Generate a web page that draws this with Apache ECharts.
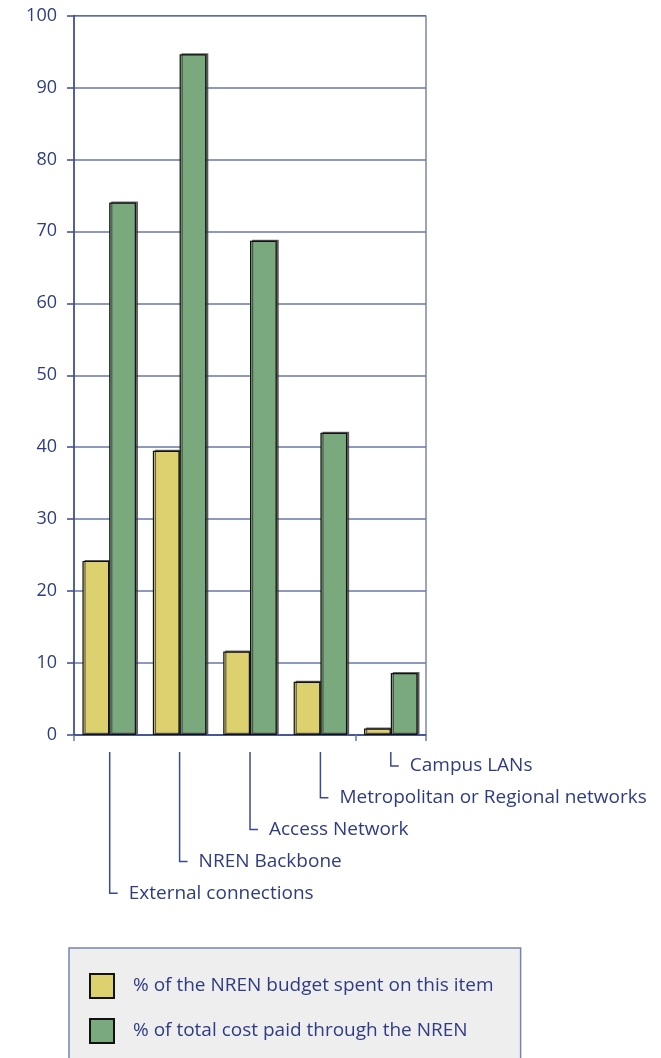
<!DOCTYPE html>
<html>
<head>
<meta charset="utf-8">
<script src="https://cdn.jsdelivr.net/npm/echarts@6/dist/echarts.min.js"></script>
<style>
html,body{margin:0;padding:0;background:#fff;}
#chart{width:661px;height:1058px;}
</style>
</head>
<body>
<div id="chart"></div>
<script>
var categories = ['External connections', 'NREN Backbone', 'Access Network', 'Metropolitan or Regional networks', 'Campus LANs'];
var budgetShare = [24.2, 39.5, 11.6, 7.4, 0.9];
var costPaidShare = [74.0, 94.6, 68.7, 42.0, 8.6];
var seriesNames = ['% of the NREN budget spent on this item', '% of total cost paid through the NREN'];
var yTicks = [0, 10, 20, 30, 40, 50, 60, 70, 80, 90, 100];

var FONT = '"Open Sans", sans-serif';
var TXT = '#2f3c84';
var AXIS = '#3b4a8e';
var GRID = '#6a77ab';

var chart = echarts.init(document.getElementById('chart'));
var n = categories.length;

chart.setOption({
  animation: false,
  backgroundColor: '#ffffff',
  grid: { left: 74, right: 235, top: 15.5, bottom: 323, show: true, borderColor: AXIS, borderWidth: 1, backgroundColor: 'transparent' },
  xAxis: {
    type: 'category',
    data: categories,
    axisLine: { lineStyle: { color: AXIS, width: 1.5 } },
    axisTick: { show: true, length: 6, lineStyle: { color: GRID, width: 1.5 } },
    axisLabel: { show: false }
  },
  yAxis: {
    type: 'value',
    min: yTicks[0],
    max: yTicks[yTicks.length - 1],
    interval: yTicks[1] - yTicks[0],
    axisLine: { show: true, lineStyle: { color: AXIS, width: 1.5 } },
    axisTick: { show: true, length: 7, lineStyle: { color: AXIS, width: 1.5 } },
    splitLine: { lineStyle: { color: GRID, width: 1.5 } },
    axisLabel: { color: TXT, fontFamily: FONT, fontSize: 18, margin: 17 }
  },
  legend: {
    data: seriesNames,
    orient: 'vertical',
    left: 69,
    top: 948,
    height: 140,
    itemWidth: 24,
    itemHeight: 24,
    itemGap: 19,
    icon: 'rect',
    backgroundColor: '#eeeeee',
    borderColor: '#7683b2',
    borderWidth: 1.5,
    borderRadius: 0,
    padding: [25, 27, 40, 20],
    textStyle: { color: TXT, fontFamily: FONT, fontSize: 19, padding: [0, 0, 0, 14] }
  },
  series: [
    {
      name: seriesNames[0],
      type: 'bar',
      data: budgetShare,
      barWidth: '38%',
      barGap: '0%',
      itemStyle: { color: '#ddd06e', borderColor: '#111111', borderWidth: 1.2, shadowColor: 'rgba(60,60,60,0.75)', shadowOffsetX: 2, shadowOffsetY: -1, shadowBlur: 0 }
    },
    {
      name: seriesNames[1],
      type: 'bar',
      data: costPaidShare,
      barWidth: '38%',
      barGap: '0%',
      itemStyle: { color: '#7ba97e', borderColor: '#111111', borderWidth: 1.2, shadowColor: 'rgba(60,60,60,0.75)', shadowOffsetX: 2, shadowOffsetY: -1, shadowBlur: 0 }
    },
    {
      name: 'categoryLabels',
      type: 'custom',
      silent: true,
      clip: false,
      data: categories.map(function (c, i) { return [i, 0]; }),
      renderItem: function (params, api) {
        var i = api.value(0);
        var p = api.coord([i, 0]);
        var x = p[0] + (i === 0 ? 0.5 : 0);
        var top = p[1] + 17;
        var bottom = p[1] + 31 + (n - 1 - i) * 31.8;
        return {
          type: 'group',
          children: [
            { type: 'polyline', shape: { points: [[x, top], [x, bottom], [x + 8, bottom]] },
              style: { stroke: AXIS, lineWidth: 1.5, fill: null } },
            { type: 'text', x: x + 19, y: bottom,
              style: { text: categories[i], fill: TXT, font: '19px ' + FONT, textVerticalAlign: 'middle', verticalAlign: 'middle', textAlign: 'left', align: 'left' } }
          ]
        };
      }
    }
  ]
});
</script>
</body>
</html>
